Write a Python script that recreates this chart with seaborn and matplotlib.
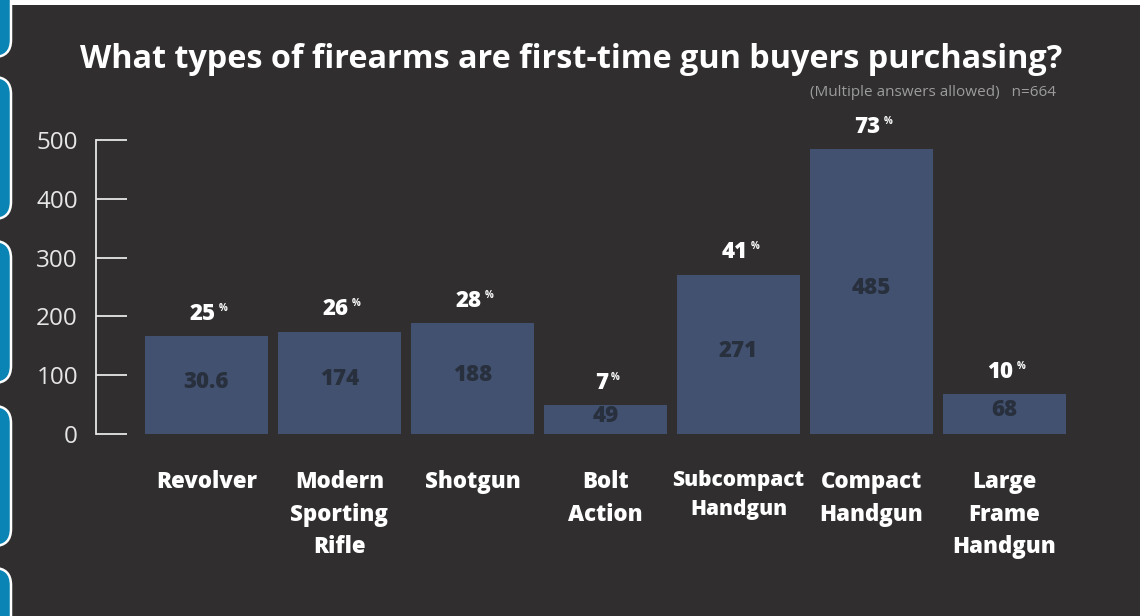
import matplotlib
matplotlib.use("Agg")
import matplotlib.pyplot as plt
from matplotlib.patches import FancyBboxPatch, Rectangle
import seaborn as sns
import pandas as pd

# ---- data ----
categories = ["Revolver", "Modern\nSporting\nRifle", "Shotgun", "Bolt\nAction",
              "Subcompact\nHandgun", "Compact\nHandgun", "Large\nFrame\nHandgun"]
counts = [166, 174, 188, 49, 271, 485, 68]
count_labels = ["30.6", "174", "188", "49", "271", "485", "68"]
percents = ["25", "26", "28", "7", "41", "73", "10"]
y_ticks = [0, 100, 200, 300, 400, 500]
title = "What types of firearms are first-time gun buyers purchasing?"
subtitle = "(Multiple answers allowed)   n=664"

BG = "#302e2f"
BAR = "#435170"
VAL = "#28303d"
FG = "#ffffff"
AX = "#e6e6e6"

sns.set_theme(style="dark")
plt.rcParams["font.family"] = ["Open Sans", "DejaVu Sans"]
HEAVY = 800

W, H = 1140, 616
fig = plt.figure(figsize=(W / 100, H / 100), dpi=100, facecolor=BG)

def px(x0, y0, x1, y1):
    return [x0 / W, 1 - y1 / H, (x1 - x0) / W, (y1 - y0) / H]

ax = fig.add_axes(px(96, 140, 1075, 434))
ax.set_facecolor(BG)

df = pd.DataFrame({"cat": categories, "count": counts})
sns.barplot(data=df, x="cat", y="count", color=BAR, width=0.92, saturation=1,
            ax=ax, edgecolor="none")

ax.set_xlim(-0.83, 6.53)
ax.set_ylim(0, 500)
ax.set_yticks(y_ticks)
ax.set_yticklabels([str(t) for t in y_ticks], color=AX, fontsize=17.5)
ax.tick_params(axis="y", direction="in", length=22, width=1.3, color=AX, pad=13, left=True)
ax.tick_params(axis="x", length=0, pad=26)
ax.set_xlabel("")
ax.set_ylabel("")
ax.grid(False)
for s in ["top", "right", "bottom"]:
    ax.spines[s].set_visible(False)
ax.spines["left"].set_visible(True)
ax.spines["left"].set_color(AX)
ax.spines["left"].set_linewidth(1.3)

for i, lab in enumerate(ax.get_xticklabels()):
    lab.set_color(FG)
    lab.set_fontweight(HEAVY)
    lab.set_fontsize(16)
    lab.set_linespacing(1.48)
    lab.set_va("top")
    if lab.get_text().startswith("Subcompact"):
        lab.set_fontsize(15)
        lab.set_linespacing(1.5)

for i, (c, cl, p) in enumerate(zip(counts, count_labels, percents)):
    ax.text(i, c / 2 + 6, cl, ha="center", va="center", color=VAL,
            fontsize=16, fontweight=HEAVY)
    ax.annotate(p, (i, c), xytext=(-3, 16), textcoords="offset points",
                ha="center", va="center", color=FG, fontsize=16,
                fontweight=HEAVY, annotation_clip=False)
    ax.annotate("%", (i, c), xytext=(12 if len(p) > 1 else 7, 20),
                textcoords="offset points", ha="center", va="center",
                color=FG, fontsize=7, fontweight="bold", annotation_clip=False)

fig.text(80 / W, 1 - 59 / H, title, ha="left", va="center", color=FG,
         fontsize=23.3, fontweight="bold")
fig.text(1056 / W, 1 - 92 / H, subtitle, ha="right", va="center",
         color="#9c9c9c", fontsize=11)

# decorative frame pieces
fig.patches.append(Rectangle((0, 1 - 5 / H), 1, 5 / H, transform=fig.transFigure,
                             facecolor="white", edgecolor="none"))
for y0, y1 in [(-20, 57), (77, 219), (241, 383), (406, 546), (568, 640)]:
    fig.patches.append(FancyBboxPatch((-30 / W, 1 - y1 / H), 41 / W, (y1 - y0) / H,
                                      boxstyle="round,pad=0,rounding_size=0.015",
                                      transform=fig.transFigure, facecolor="#0a84b4",
                                      edgecolor="white", linewidth=1.8,
                                      mutation_aspect=W / H))

fig.savefig("out.png", dpi=100, facecolor=BG)
